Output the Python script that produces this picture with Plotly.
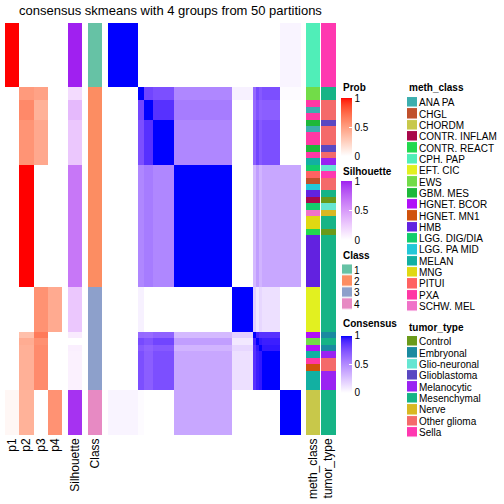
import plotly.graph_objects as go

# ---------------- data ----------------
group_names = ["A", "B1", "B2", "B3", "B4", "C1", "C2", "C3", "C4", "C5", "D"]
group_sizes = [10, 2, 3, 7, 19, 7, 1, 1, 1, 6, 7]
group_class = [1, 2, 2, 2, 2, 3, 3, 3, 3, 3, 4]
group_p1 = [1.00, 0.00, 0.00, 0.00, 0.00, 0.00, 0.00, 0.00, 0.00, 0.00, 0.04]
group_p2 = [0.00, 0.52, 0.60, 0.55, 1.00, 0.00, 0.33, 0.43, 0.41, 0.41, 0.40]
group_p3 = [0.00, 0.48, 0.40, 0.45, 0.00, 0.56, 0.67, 0.57, 0.59, 0.59, 0.00]
group_p4 = [0.00, 0.00, 0.00, 0.00, 0.00, 0.44, 0.00, 0.00, 0.00, 0.00, 0.56]
group_silhouette = [1.00, 0.18, 0.35, 0.28, 0.67, 0.28, 0.10, 0.00, 0.08, 0.07, 0.95]

# consensus between groups (symmetric)
consensus_blocks = [
    # A    B1    B2    B3    B4    C1    C2    C3    C4    C5    D
    [1.00, 0.00, 0.00, 0.00, 0.00, 0.00, 0.00, 0.00, 0.00, 0.00, 0.05],  # A
    [0.00, 1.00, 0.80, 0.76, 0.52, 0.06, 0.65, 0.78, 0.72, 0.76, 0.02],  # B1
    [0.00, 0.80, 1.00, 0.88, 0.57, 0.00, 0.64, 0.74, 0.68, 0.70, 0.00],  # B2
    [0.00, 0.76, 0.88, 1.00, 0.52, 0.00, 0.68, 0.80, 0.72, 0.76, 0.00],  # B3
    [0.00, 0.52, 0.57, 0.52, 1.00, 0.00, 0.30, 0.42, 0.32, 0.38, 0.38],  # B4
    [0.00, 0.06, 0.00, 0.00, 0.00, 1.00, 0.20, 0.10, 0.17, 0.13, 0.00],  # C1
    [0.00, 0.65, 0.64, 0.68, 0.30, 0.20, 1.00, 0.92, 0.88, 0.88, 0.00],  # C2
    [0.00, 0.78, 0.74, 0.80, 0.42, 0.10, 0.92, 1.00, 0.96, 0.94, 0.00],  # C3
    [0.00, 0.72, 0.68, 0.72, 0.32, 0.17, 0.88, 0.96, 1.00, 0.96, 0.00],  # C4
    [0.00, 0.76, 0.70, 0.76, 0.38, 0.13, 0.88, 0.94, 0.96, 1.00, 0.00],  # C5
    [0.05, 0.02, 0.00, 0.00, 0.38, 0.00, 0.00, 0.00, 0.00, 0.00, 1.00],  # D
]

meth_class = (
    ["CPH. PAP"] * 10
    + ["EWS"] * 2
    + ["PXA", "ANA PA", "PXA"]
    + ["GBM. MES", "ANA PA", "PXA", "PXA", "GBM. MES", "PXA", "MELAN"]
    + ["LGG. DIG/DIA", "PITUI", "CHGL", "LGG. PA MID", "HMB", "CONTR. INFLAM",
       "LGG. DIG/DIA", "SCHW. MEL", "MNG", "MNG", "CONTR. REACT"] + ["HMB"] * 8
    + ["EFT. CIC"] * 7
    + ["HGNET. BCOR", "EWS", "HGNET. BCOR"]
    + ["MELAN", "PXA", "HGNET. MN1", "MELAN", "MELAN", "MELAN"]
    + ["CHORDM"] * 7
)
tumor_type = (
    ["Sella"] * 10
    + ["Mesenchymal"] * 2
    + ["Other glioma"] * 3
    + ["Glioblastoma", "Other glioma", "Other glioma", "Other glioma", "Glioblastoma",
       "Other glioma", "Melanocytic"]
    + ["Glio-neuronal", "Sella", "Other glioma", "Other glioma", "Mesenchymal", "Control",
       "Glio-neuronal", "Nerve", "Mesenchymal", "Mesenchymal", "Control"] + ["Mesenchymal"] * 8
    + ["Mesenchymal"] * 7
    + ["Embryonal", "Mesenchymal", "Embryonal"]
    + ["Melanocytic", "Other glioma", "Other glioma", "Melanocytic", "Melanocytic", "Melanocytic"]
    + ["Mesenchymal"] * 7
)

class_levels = ["1", "2", "3", "4"]
class_colors = ["#66C2A5", "#FC8D62", "#8DA0CB", "#E78AC3"]
meth_levels = ["ANA PA", "CHGL", "CHORDM", "CONTR. INFLAM", "CONTR. REACT", "CPH. PAP",
               "EFT. CIC", "EWS", "GBM. MES", "HGNET. BCOR", "HGNET. MN1", "HMB",
               "LGG. DIG/DIA", "LGG. PA MID", "MELAN", "MNG", "PITUI", "PXA", "SCHW. MEL"]
meth_colors = ["#3CAEAE", "#C0502C", "#C8C84A", "#A8084A", "#22D84E", "#50EEB8",
               "#E2F020", "#72DC48", "#1EB83A", "#B010F8", "#D0520C", "#6222E0",
               "#12CC6C", "#22C8D8", "#12B0A2", "#E0D812", "#FF6262", "#FF38A4", "#F072C8"]
tumor_levels = ["Control", "Embryonal", "Glio-neuronal", "Glioblastoma", "Melanocytic",
                "Mesenchymal", "Nerve", "Other glioma", "Sella"]
tumor_colors = ["#6A9A1A", "#1A8AA0", "#66E6D2", "#5A48C2", "#9A22F2",
                "#16B486", "#D8B822", "#F46A6A", "#FF38B0"]
prob_labels = ["p1", "p2", "p3", "p4"]

# ---------------- expand groups to samples ----------------
def expand(vals):
    out = []
    for v, n in zip(vals, group_sizes):
        out += [v] * n
    return out

p1, p2, p3, p4 = expand(group_p1), expand(group_p2), expand(group_p3), expand(group_p4)
sil = expand(group_silhouette)
cls = expand(group_class)
gidx = expand(list(range(len(group_names))))
N = len(gidx)
rows = list(range(N))
consensus = [[consensus_blocks[gi][gj] for gj in gidx] for gi in gidx]
prob_z = [[p1[i], p2[i], p3[i], p4[i]] for i in rows]

# ---------------- colour ramps (LAB interpolation, like colorRamp2) ----------------
WHITE = (0.95047, 1.0, 1.08883)

def _lin(c):
    c = c / 255.0
    return c / 12.92 if c <= 0.04045 else ((c + 0.055) / 1.055) ** 2.4

def _delin(c):
    c = min(max(c, 0.0), 1.0)
    v = 12.92 * c if c <= 0.0031308 else 1.055 * c ** (1 / 2.4) - 0.055
    return int(round(min(max(v, 0), 1) * 255))

def _f(t):
    d = 6 / 29
    return t ** (1 / 3) if t > d ** 3 else t / (3 * d * d) + 4 / 29

def _finv(t):
    d = 6 / 29
    return t ** 3 if t > d else 3 * d * d * (t - 4 / 29)

def hex2lab(h):
    r, g, b = (_lin(int(h[i:i + 2], 16)) for i in (1, 3, 5))
    X = 0.4124 * r + 0.3576 * g + 0.1805 * b
    Y = 0.2126 * r + 0.7152 * g + 0.0722 * b
    Z = 0.0193 * r + 0.1192 * g + 0.9505 * b
    fx, fy, fz = _f(X / WHITE[0]), _f(Y / WHITE[1]), _f(Z / WHITE[2])
    return 116 * fy - 16, 500 * (fx - fy), 200 * (fy - fz)

def lab2rgb(L, a, b):
    fy = (L + 16) / 116
    fx = fy + a / 500
    fz = fy - b / 200
    X, Y, Z = WHITE[0] * _finv(fx), WHITE[1] * _finv(fy), WHITE[2] * _finv(fz)
    r = 3.2406 * X - 1.5372 * Y - 0.4986 * Z
    g = -0.9689 * X + 1.8758 * Y + 0.0415 * Z
    bb = 0.0557 * X - 0.2040 * Y + 1.0570 * Z
    return "rgb(%d,%d,%d)" % (_delin(r), _delin(g), _delin(bb))

def ramp(c0, c1, n=26):
    l0, l1 = hex2lab(c0), hex2lab(c1)
    out = []
    for i in range(n):
        t = i / (n - 1)
        out.append([t, lab2rgb(*[l0[k] + (l1[k] - l0[k]) * t for k in range(3)])])
    return out

def discrete(colors):
    K = len(colors)
    cs = []
    for k, c in enumerate(colors):
        cs.append([k / K, c])
        cs.append([(k + 1) / K, c])
    return cs

prob_cs = ramp("#FFFFFF", "#FF0000")
sil_cs = ramp("#FFFFFF", "#A020F0")
cons_cs = ramp("#FFFFFF", "#0000FF")

# ---------------- figure ----------------
W = H = 504
FONT = "Liberation Sans, Arial, Helvetica, sans-serif"

def px(x):
    return x / W

def py(y):
    return 1 - y / H

fig = go.Figure()

def cbar(top, length):
    return dict(x=px(341), xanchor="left", y=py(top), yanchor="top",
                len=length, lenmode="pixels", thickness=11, thicknessmode="pixels",
                xpad=0, ypad=0, outlinewidth=0,
                tickvals=[0, 0.5, 1], ticktext=["0", "0.5", "1"],
                ticks="inside", ticklen=3, tickcolor="white",
                tickfont=dict(size=10, color="black", family=FONT))

fig.add_trace(go.Heatmap(z=prob_z, x=prob_labels, y=rows, xaxis="x", yaxis="y",
                         colorscale=prob_cs, zmin=0, zmax=1, hoverinfo="skip",
                         colorbar=cbar(98, 58)))
fig.add_trace(go.Heatmap(z=[[v] for v in sil], x=["Silhouette"], y=rows, xaxis="x2", yaxis="y",
                         colorscale=sil_cs, zmin=0, zmax=1, hoverinfo="skip",
                         colorbar=cbar(181, 59)))
fig.add_trace(go.Heatmap(z=[[c - 1] for c in cls], x=["Class"], y=rows, xaxis="x3", yaxis="y",
                         colorscale=discrete(class_colors), zmin=-0.5, zmax=len(class_colors) - 0.5,
                         showscale=False, hoverinfo="skip"))
fig.add_trace(go.Heatmap(z=consensus, x=rows, y=rows, xaxis="x4", yaxis="y",
                         colorscale=cons_cs, zmin=0, zmax=1, hoverinfo="skip",
                         colorbar=cbar(335.5, 57)))
fig.add_trace(go.Heatmap(z=[[meth_levels.index(m)] for m in meth_class], x=["meth_class"], y=rows,
                         xaxis="x5", yaxis="y", colorscale=discrete(meth_colors),
                         zmin=-0.5, zmax=len(meth_levels) - 0.5, showscale=False, hoverinfo="skip"))
fig.add_trace(go.Heatmap(z=[[tumor_levels.index(t)] for t in tumor_type], x=["tumor_type"], y=rows,
                         xaxis="x6", yaxis="y", colorscale=discrete(tumor_colors),
                         zmin=-0.5, zmax=len(tumor_levels) - 0.5, showscale=False, hoverinfo="skip"))

# legend swatches
def swatch(levels, colors, xa, ya):
    fig.add_trace(go.Heatmap(z=[[k] for k in range(len(levels))], x=[0], y=list(range(len(levels))),
                             xaxis=xa, yaxis=ya, colorscale=discrete(colors), ygap=1.5,
                             zmin=-0.5, zmax=len(levels) - 0.5, showscale=False, hoverinfo="skip"))

swatch(class_levels, class_colors, "x7", "y7")
swatch(meth_levels, meth_colors, "x8", "y8")
swatch(tumor_levels, tumor_colors, "x9", "y9")

hidden = dict(showgrid=False, zeroline=False, showline=False, ticks="", showticklabels=False)

def bottom_axis(x0, x1, labels=True):
    d = dict(domain=[px(x0), px(x1)], anchor="y", showgrid=False, zeroline=False,
             showline=False, ticks="", tickangle=-90, showticklabels=labels,
             tickfont=dict(size=12, color="black", family=FONT), fixedrange=True)
    return d

def legend_axes(x0, x1, yc0, n, step, levels):
    half = step / 2
    xa = dict(domain=[px(x0), px(x1)], **hidden)
    ya = dict(domain=[py(yc0 + (n - 1) * step + half), py(yc0 - half)],
              range=[n - 0.5, -0.5], side="right", showgrid=False, zeroline=False,
              showline=False, ticks="", tickvals=list(range(n)), ticktext=levels,
              ticklabelstandoff=1,
              tickfont=dict(size=10, color="black", family=FONT))
    return xa, ya

x7, y7 = legend_axes(342, 352, 270, 4, 11.45, class_levels)
x8, y8 = legend_axes(407, 417, 102.7, len(meth_levels), 11.33, meth_levels)
x9, y9 = legend_axes(407, 417, 341.7, len(tumor_levels), 11.37, tumor_levels)
x7["anchor"], y7["anchor"] = "y7", "x7"
x8["anchor"], y8["anchor"] = "y8", "x8"
x9["anchor"], y9["anchor"] = "y9", "x9"

fig.update_layout(
    width=W, height=H, margin=dict(l=0, r=0, t=0, b=0),
    paper_bgcolor="white", plot_bgcolor="white",
    font=dict(family=FONT, color="black"),
    title=dict(text="consensus skmeans with 4 groups from 50 partitions",
               x=px(170.5), xanchor="center", y=py(10), yanchor="middle",
               font=dict(size=13, color="black", family=FONT)),
    xaxis=bottom_axis(5, 62),
    xaxis2=bottom_axis(68, 82),
    xaxis3=bottom_axis(88, 102),
    xaxis4=dict(bottom_axis(108, 301, labels=False), range=[-0.5, N - 0.5]),
    xaxis5=bottom_axis(306, 320),
    xaxis6=bottom_axis(321, 336),
    yaxis=dict(domain=[py(435), py(23)], range=[N - 0.5, -0.5], **hidden),
    xaxis7=x7, yaxis7=y7, xaxis8=x8, yaxis8=y8, xaxis9=x9, yaxis9=y9,
    showlegend=False,
)

for txt, x, y in [("Prob", 341, 87), ("Silhouette", 341, 171), ("Class", 341, 255),
                  ("Consensus", 341, 323.5), ("meth_class", 406.5, 87), ("tumor_type", 406.5, 327)]:
    fig.add_annotation(text="<b>%s</b>" % txt, x=px(x), y=py(y), xref="paper", yref="paper",
                       xanchor="left", yanchor="middle", showarrow=False,
                       font=dict(size=10, color="black", family=FONT))

fig.write_html("out.html", config={"displayModeBar": False},
               post_script="document.body.style.margin='0px';document.body.style.overflow='hidden';")
